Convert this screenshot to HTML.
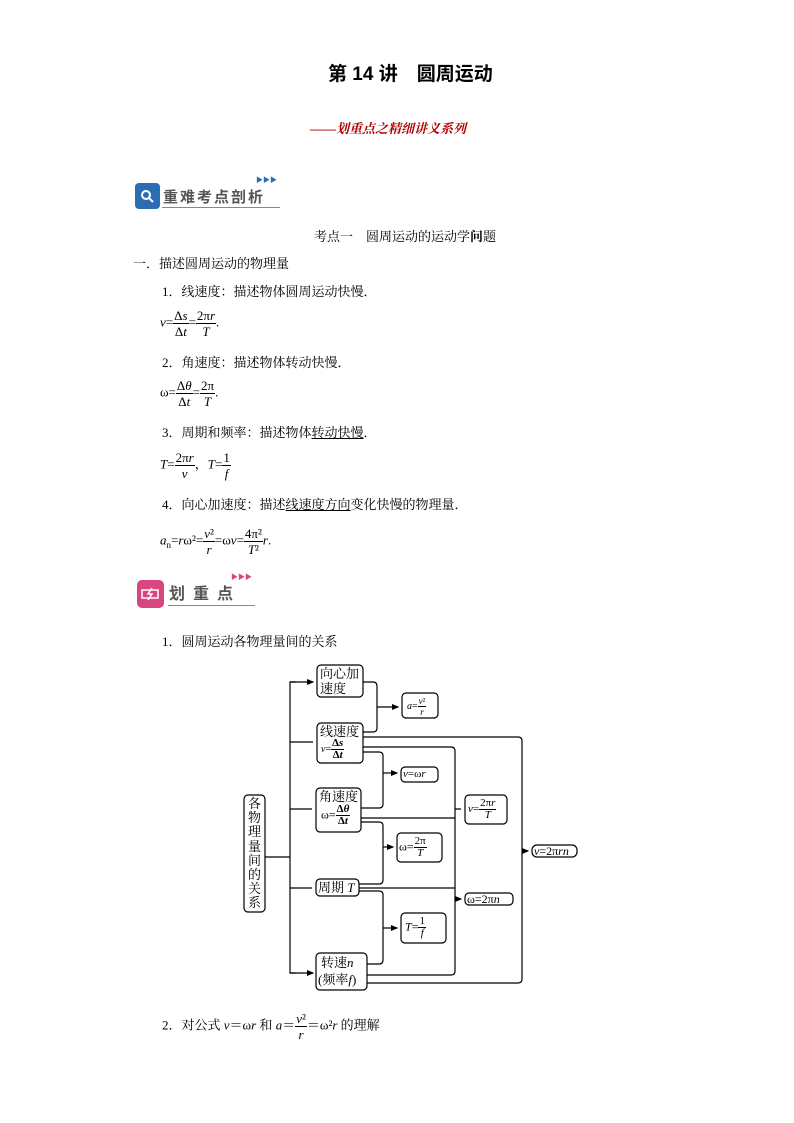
<!DOCTYPE html>
<html><head><meta charset="utf-8">
<style>
body{margin:0;background:#fff}
#p{position:relative;width:794px;height:1123px;overflow:hidden;font-family:"Liberation Serif","Noto Serif CJK SC","Noto Sans CJK SC",serif;color:#000}
.t{position:absolute;white-space:nowrap;font-size:13px;line-height:16px}
.s{font-family:"Liberation Sans","Noto Sans CJK SC",sans-serif}
.fr{display:inline-block;vertical-align:middle;text-align:center;line-height:15px;font-size:13px}
.fr span{display:block;padding:0 1px}
.fr span:first-child{border-bottom:1px solid #000}
i{font-style:italic}
</style></head><body><div id="p">
<div class="t s" style="left:328px;top:64px;font-size:19px;line-height:22px;font-weight:bold">第 14 讲　圆周运动</div>
<div class="t" style="left:310px;top:121px;color:#b00000;font-size:13px;font-weight:bold;font-style:italic">——划重点之精细讲义系列</div>

<div style="position:absolute;left:135px;top:183px;width:25px;height:26px;background:#2a6db5;border-radius:4px"></div>
<svg style="position:absolute;left:135px;top:183px" width="25" height="26"><circle cx="11" cy="12" r="4" fill="none" stroke="#fff" stroke-width="2"/><line x1="14" y1="15" x2="18" y2="19" stroke="#fff" stroke-width="2"/></svg>
<div class="t s" style="left:163px;top:189px;font-size:15px;line-height:18px;font-weight:bold;color:#555;letter-spacing:2px">重难考点剖析</div>
<div style="position:absolute;left:162px;top:207px;width:118px;height:1px;background:#888"></div>
<div class="t" style="left:256px;top:176px;font-size:7px;color:#2a6db5;line-height:8px">▶▶▶</div>

<div class="t" style="left:314px;top:229px">考点一　圆周运动的运动学<b>问</b>题</div>
<div class="t" style="left:133px;top:256px">一．描述圆周运动的物理量</div>
<div class="t" style="left:162px;top:284px">1．线速度：描述物体圆周运动快慢．</div>
<div class="t" style="left:160px;top:308px"><i>v</i>=<span class="fr"><span>Δ<i>s</i></span><span>Δ<i>t</i></span></span>=<span class="fr"><span>2π<i>r</i></span><span><i>T</i></span></span>.</div>
<div class="t" style="left:162px;top:355px">2．角速度：描述物体转动快慢．</div>
<div class="t" style="left:160px;top:378px">ω=<span class="fr"><span>Δ<i>θ</i></span><span>Δ<i>t</i></span></span>=<span class="fr"><span>2π</span><span><i>T</i></span></span>.</div>
<div class="t" style="left:162px;top:425px">3．周期和频率：描述物体<u>转动快慢</u>．</div>
<div class="t" style="left:160px;top:450px"><i>T</i>=<span class="fr"><span>2π<i>r</i></span><span><i>v</i></span></span>，<i>T</i>=<span class="fr"><span>1</span><span><i>f</i></span></span></div>
<div class="t" style="left:162px;top:497px">4．向心加速度：描述<u>线速度方向</u>变化快慢的物理量．</div>
<div class="t" style="left:160px;top:526px"><i>a</i><sub style="font-size:9px">n</sub>=<i>r</i>ω²=<span class="fr"><span><i>v</i>²</span><span><i>r</i></span></span>=ω<i>v</i>=<span class="fr"><span>4π²</span><span><i>T</i>²</span></span><i>r</i>.</div>

<div style="position:absolute;left:137px;top:580px;width:27px;height:28px;background:#d9457e;border-radius:5px"></div>
<svg style="position:absolute;left:137px;top:580px" width="27" height="28"><rect x="5" y="10" width="16" height="8" fill="none" stroke="#fff" stroke-width="1.5"/><path d="M15 8 L11 14 L15 14 L11 20" stroke="#fff" fill="none" stroke-width="1.5"/></svg>
<div class="t s" style="left:169px;top:586px;font-size:16px;line-height:18px;font-weight:bold;color:#555;letter-spacing:8px">划重点</div>
<div style="position:absolute;left:168px;top:605px;width:87px;height:1px;background:#888"></div>
<div class="t" style="left:231px;top:573px;font-size:7px;color:#d9457e;line-height:8px">▶▶▶</div>

<div class="t" style="left:162px;top:634px">1．圆周运动各物理量间的关系</div>

<svg style="position:absolute;left:0;top:0" width="794" height="1123">
<defs><marker id="a" markerWidth="6" markerHeight="6" refX="5" refY="3" orient="auto"><path d="M0,0.5 L6,3 L0,5.5z" fill="#000"/></marker></defs>
<g fill="none" stroke="#000" stroke-width="1.2">
<rect x="244" y="795" width="21" height="117" rx="4"/>
<rect x="317" y="665" width="46" height="32" rx="4"/>
<rect x="402" y="693" width="36" height="25" rx="4"/>
<rect x="317" y="723" width="46" height="40" rx="4"/>
<rect x="401" y="767" width="37" height="15" rx="4"/>
<rect x="316" y="788" width="45" height="44" rx="4"/>
<rect x="465" y="795" width="42" height="29" rx="4"/>
<rect x="397" y="833" width="45" height="29" rx="4"/>
<rect x="532" y="845" width="45" height="12" rx="5"/>
<rect x="316" y="879" width="43" height="17" rx="4"/>
<rect x="465" y="893" width="48" height="12" rx="4"/>
<rect x="401" y="913" width="45" height="30" rx="4"/>
<rect x="316" y="953" width="51" height="37" rx="4"/>
<path d="M265 857 H290 M296 682 H290 V973 H296"/>
<path d="M290 742 H313 M290 809 H312 M290 888 H312 M290 973 H313" marker-end="url(#a)"/>
<path d="M290 682 H313" marker-end="url(#a)"/>
<path d="M363 682 H373 Q377 682 377 686 V728 Q377 732 373 732 H363"/>
<path d="M377 707 H398" marker-end="url(#a)"/>
<path d="M363 752 H379 Q383 752 383 756 V804 Q383 808 379 808 H361"/>
<path d="M383 773 H397" marker-end="url(#a)"/>
<path d="M361 822 H379 Q383 822 383 826 V880 Q383 884 379 884 H359"/>
<path d="M383 847 H393" marker-end="url(#a)"/>
<path d="M359 891 H379 Q383 891 383 895 V960 Q383 964 379 964 H367"/>
<path d="M383 928 H397" marker-end="url(#a)"/>
<path d="M363 747 H451 Q455 747 455 751 V971 Q455 975 451 975 H367"/>
<path d="M361 818 H455 M359 888 H455"/>
<path d="M455 809 H461 M455 899 H461" marker-end="url(#a)"/>
<path d="M363 737 H518 Q522 737 522 741 V979 Q522 983 518 983 H367"/>
<path d="M522 851 H528" marker-end="url(#a)"/>
</g>
</svg>
<div class="t" style="left:248px;top:797px;width:14px;font-size:13px;line-height:14.2px;white-space:normal">各物理量间的关系</div>
<div class="t" style="left:320px;top:666px;font-size:13px;line-height:15px;white-space:normal;width:46px">向心加速度</div>
<div class="t" style="left:407px;top:696px;font-size:10px"><i>a</i>=<span class="fr" style="font-size:9px;line-height:10px"><span><i>v</i>²</span><span><i>r</i></span></span></div>
<div class="t" style="left:320px;top:724px">线速度</div>
<div class="t" style="left:321px;top:738px;font-size:10px"><i>v</i>=<span class="fr" style="font-size:11px;line-height:11px;font-weight:bold"><span>Δ<i>s</i></span><span>Δ<i>t</i></span></span></div>
<div class="t" style="left:403px;top:767px;font-size:11px;line-height:14px"><i>v</i>=ω<i>r</i></div>
<div class="t" style="left:319px;top:789px">角速度</div>
<div class="t" style="left:321px;top:804px;font-size:12px">ω=<span class="fr" style="font-size:11px;line-height:11px;font-weight:bold"><span>Δ<i>θ</i></span><span>Δ<i>t</i></span></span></div>
<div class="t" style="left:468px;top:798px;font-size:11px"><i>v</i>=<span class="fr" style="font-size:11px;line-height:11px"><span>2π<i>r</i></span><span><i>T</i></span></span></div>
<div class="t" style="left:399px;top:836px;font-size:12px">ω=<span class="fr" style="font-size:11px;line-height:11px"><span>2π</span><span><i>T</i></span></span></div>
<div class="t" style="left:534px;top:844px;font-size:12px;line-height:14px"><i>v</i>=2π<i>rn</i></div>
<div class="t" style="left:318px;top:880px">周期 <i>T</i></div>
<div class="t" style="left:467px;top:892px;font-size:12px;line-height:14px">ω=2π<i>n</i></div>
<div class="t" style="left:405px;top:916px;font-size:12px"><i>T</i>=<span class="fr" style="font-size:11px;line-height:11px"><span>1</span><span><i>f</i></span></span></div>
<div class="t" style="left:321px;top:955px">转速<i>n</i></div>
<div class="t" style="left:318px;top:972px">(频率<i>f</i>)</div>

<div class="t" style="left:162px;top:1011px;line-height:22px">2．对公式 <i>v</i>＝ω<i>r</i> 和 <i>a</i>＝<span class="fr"><span><i>v</i>²</span><span><i>r</i></span></span>＝ω²<i>r</i> 的理解</div>
</div></body></html>
